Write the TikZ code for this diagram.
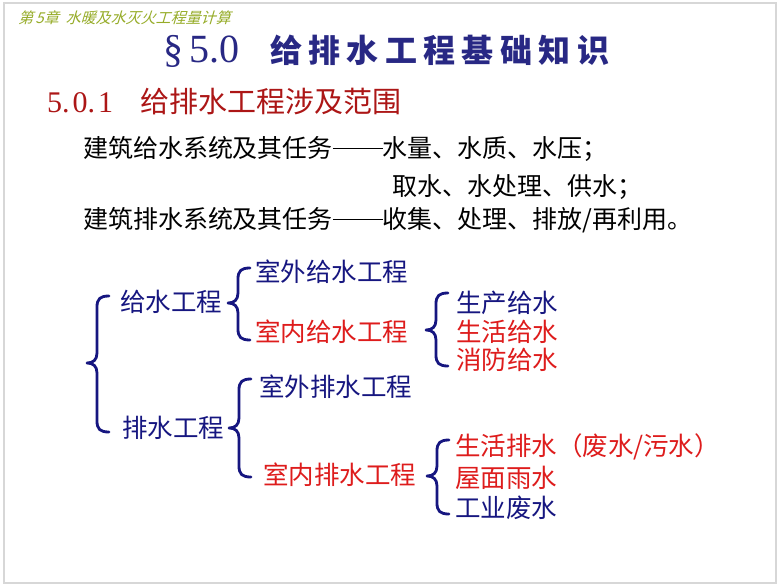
\documentclass[tikz,border=0pt]{standalone}
\usepackage{fontspec}
\setmainfont{Noto Sans CJK SC}
\newfontfamily\lat{Liberation Serif}
\newfontfamily\hdrfont[FakeSlant=0.3]{Noto Sans CJK SC}
\newfontfamily\ttlfont[LetterSpace=20]{Noto Sans CJK SC}
\definecolor{tblue}{RGB}{22,22,128}
\definecolor{tred}{RGB}{222,28,28}
\definecolor{hred}{RGB}{172,22,22}
\definecolor{ttlblue}{RGB}{40,40,132}
\definecolor{olive}{RGB}{150,172,40}
\definecolor{frame}{RGB}{215,215,215}
\tikzset{
  txt/.style={anchor=west,inner sep=0pt,outer sep=0pt},
  body/.style={txt,text=black,font=\fontsize{25}{28}\selectfont},
  tree/.style={txt,font=\fontsize{25.5}{28}\selectfont},
  bracestyle/.style={draw=tblue,line width=2.8pt,line cap=round,line join=round}
}
\newcommand\longdash{\rule[0.33em]{2em}{1.1pt}}
\newcommand\cbrace[4]{%
  \draw[bracestyle] (#1+12,#2) .. controls (#1+3,#2) and (#1,#2+3) .. (#1,#2+11)
    -- (#1,#4-10) .. controls (#1,#4-3) and (#1-4,#4) .. (#1-10,#4)
    .. controls (#1-4,#4) and (#1,#4+3) .. (#1,#4+10)
    -- (#1,#3-11) .. controls (#1,#3-3) and (#1+3,#3) .. (#1+12,#3);}
\begin{document}
\begin{tikzpicture}[x=1pt,y=-1pt]
\useasboundingbox (0,0) rectangle (780,587);
\fill[white] (0,0) rectangle (780,587);
\draw[frame,line width=1.5pt] (4,3) rectangle (776,583);
% header
\node[txt,text=olive] (hdr) at (18,18) {\hdrfont\fontsize{15}{18}\selectfont 第\,5章\ \ 水暖及水灭火工程量计算};
% title
\node[txt,text=ttlblue] (sec) at (163,51) {\lat\fontsize{40}{44}\selectfont §\hspace{6pt}5.0};
\node[txt,text=ttlblue] (ttl) at (270,50) {\ttlfont\bfseries\fontsize{32}{36}\selectfont 给排水工程基础知识};
% heading
\node[txt,text=hred] (hnum) at (47,103) {\lat\fontsize{30}{34}\selectfont 5.\hspace{3pt}0.\hspace{3pt}1};
\node[txt,text=hred] (htxt) at (140,102) {\fontsize{29}{32}\selectfont 给排水工程涉及范围};
% body
\node[body] (l1) at (83,149) {建筑给水系统及其任务\longdash 水量、水质、水压；};
\node[body] (l2) at (392,187) {取水、水处理、供水；};
\node[body] (l3) at (83,220) {建筑排水系统及其任务\longdash 收集、处理、排放/再利用。};
% tree
\node[tree,text=tblue] (gs) at (120,302) {给水工程};
\node[tree,text=tblue] (ps) at (122,428) {排水工程};
\node[tree,text=tblue] (swgs) at (255,272) {室外给水工程};
\node[tree,text=tred]  (sngs) at (255,332) {室内给水工程};
\node[tree,text=tblue] (scgs) at (456,303) {生产给水};
\node[tree,text=tred]  (shgs) at (456,332) {生活给水};
\node[tree,text=tred]  (xfgs) at (456,360) {消防给水};
\node[tree,text=tblue] (swps) at (259,387) {室外排水工程};
\node[tree,text=tred]  (snps) at (263,475) {室内排水工程};
\node[tree,text=tred]  (shps) at (455,447) {生活排水（废水/污水）};
\node[tree,text=tred]  (wmys) at (455,478) {屋面雨水};
\node[tree,text=tblue] (gyfs) at (455,508) {工业废水};
% braces
\cbrace{97}{296}{432}{363}
\cbrace{238}{268}{340}{303}
\cbrace{436}{293}{366}{330}
\cbrace{239}{379}{477}{428}
\cbrace{437}{440}{514}{476}
\end{tikzpicture}
\end{document}
